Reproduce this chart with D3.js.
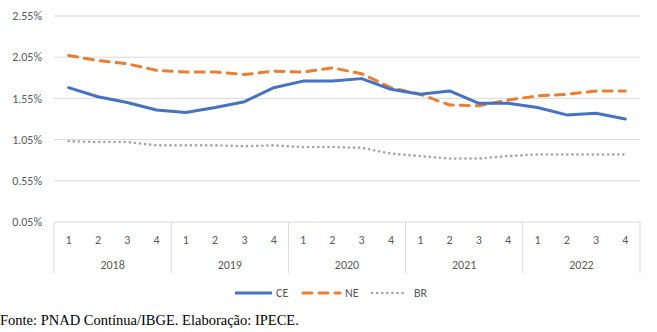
<!DOCTYPE html>
<html>
<head>
<meta charset="utf-8">
<script src="https://cdn.jsdelivr.net/npm/d3@7"></script>
<style>
  body { margin: 0; background: #fff; }
  svg { display: block; }
  .src { font-family: "Liberation Serif", "DejaVu Serif", serif; }
</style>
</head>
<body>
<div id="chart"></div>
<script>
const years = ["2018", "2019", "2020", "2021", "2022"];
const quarters = ["1", "2", "3", "4"];
const yTicks = [0.05, 0.55, 1.05, 1.55, 2.05, 2.55];

const ceValues = [1.68, 1.57, 1.50, 1.41, 1.38, 1.44, 1.51, 1.68,
                  1.76, 1.76, 1.79, 1.66, 1.60, 1.64, 1.49, 1.49,
                  1.44, 1.35, 1.37, 1.30];
const neValues = [2.07, 2.01, 1.97, 1.89, 1.87, 1.87, 1.84, 1.88,
                  1.87, 1.92, 1.85, 1.68, 1.60, 1.47, 1.46, 1.53,
                  1.58, 1.60, 1.64, 1.64];
const brValues = [1.03, 1.02, 1.02, 0.98, 0.98, 0.98, 0.97, 0.98,
                  0.96, 0.96, 0.95, 0.88, 0.85, 0.82, 0.82, 0.85,
                  0.87, 0.87, 0.87, 0.87];

const series = [
  { name: "CE", values: ceValues, color: "#4472C4", dash: null, width: 3 },
  { name: "NE", values: neValues, color: "#ED7D31", dash: "9,7", width: 3 },
  { name: "BR", values: brValues, color: "#A5A5A5", dash: "0.1,5", width: 2.6 }
];

const width = 657, height = 332;
const m = { left: 54, right: 640, top: 16, bottom: 222 };

const svg = d3.select("#chart").append("svg")
  .attr("width", width)
  .attr("height", height);

const cats = [];
years.forEach(yr => quarters.forEach(q => cats.push(yr + "-" + q)));

const x = d3.scaleBand().domain(cats).range([m.left, m.right]);
const xYear = d3.scaleBand().domain(years).range([m.left, m.right]);
const y = d3.scaleLinear().domain([0.05, 2.55]).range([m.bottom, m.top]);

const font = "Calibri, Carlito, 'Open Sans', sans-serif";

// gridlines
svg.append("g")
  .selectAll("line")
  .data(yTicks)
  .enter()
  .append("line")
  .attr("x1", m.left).attr("x2", m.right)
  .attr("y1", d => y(d)).attr("y2", d => y(d))
  .attr("stroke", "#d9d9d9")
  .attr("stroke-width", 1);

// y labels
svg.append("g")
  .selectAll("text")
  .data(yTicks)
  .enter()
  .append("text")
  .attr("x", 42)
  .attr("y", d => y(d))
  .attr("dy", "0.35em")
  .attr("text-anchor", "end")
  .attr("font-family", font)
  .attr("font-size", 12)
  .attr("fill", "#595959")
  .text(d => d.toFixed(2) + "%");

// year separators
const sepX = years.map(yr => xYear(yr)).concat([m.right]);
svg.append("g")
  .selectAll("line")
  .data(sepX)
  .enter()
  .append("line")
  .attr("x1", d => d).attr("x2", d => d)
  .attr("y1", m.bottom).attr("y2", 273)
  .attr("stroke", "#d9d9d9")
  .attr("stroke-width", 1);

// quarter labels
svg.append("g")
  .selectAll("text")
  .data(cats)
  .enter()
  .append("text")
  .attr("x", d => x(d) + x.bandwidth() / 2)
  .attr("y", 240)
  .attr("dy", "0.35em")
  .attr("text-anchor", "middle")
  .attr("font-family", font)
  .attr("font-size", 12)
  .attr("fill", "#595959")
  .text(d => d.split("-")[1]);

// year labels
svg.append("g")
  .selectAll("text")
  .data(years)
  .enter()
  .append("text")
  .attr("x", d => xYear(d) + xYear.bandwidth() / 2)
  .attr("y", 265)
  .attr("dy", "0.35em")
  .attr("text-anchor", "middle")
  .attr("font-family", font)
  .attr("font-size", 12)
  .attr("fill", "#595959")
  .text(d => d);

// lines
const line = d3.line()
  .x((d, i) => x(cats[i]) + x.bandwidth() / 2)
  .y(d => y(d));

svg.append("g")
  .selectAll("path")
  .data(series.slice().reverse())
  .enter()
  .append("path")
  .attr("d", d => line(d.values))
  .attr("fill", "none")
  .attr("stroke", d => d.color)
  .attr("stroke-width", d => d.width)
  .attr("stroke-dasharray", d => d.dash)
  .attr("stroke-linecap", "round")
  .attr("stroke-linejoin", "round");

// legend
const legendPos = [
  { x1: 235, x2: 272, tx: 276 },
  { x1: 303, x2: 340, tx: 345 },
  { x1: 372, x2: 407, tx: 414 }
];
const legend = svg.append("g")
  .selectAll("g")
  .data(series)
  .enter()
  .append("g");

legend.append("line")
  .attr("x1", (d, i) => legendPos[i].x1)
  .attr("x2", (d, i) => legendPos[i].x2)
  .attr("y1", 293).attr("y2", 293)
  .attr("stroke", d => d.color)
  .attr("stroke-width", d => d.width)
  .attr("stroke-dasharray", d => d.dash)
  .attr("stroke-linecap", d => d.name === "CE" ? "butt" : "round");

legend.append("text")
  .attr("x", (d, i) => legendPos[i].tx)
  .attr("y", 293)
  .attr("dy", "0.35em")
  .attr("font-family", font)
  .attr("font-size", 12)
  .attr("fill", "#595959")
  .text(d => d.name);

// source
svg.append("text")
  .attr("class", "src")
  .attr("x", 0)
  .attr("y", 325)
  .attr("font-size", 14.5)
  .attr("fill", "#000")
  .text("Fonte: PNAD Contínua/IBGE. Elaboração: IPECE.");
</script>
</body>
</html>
